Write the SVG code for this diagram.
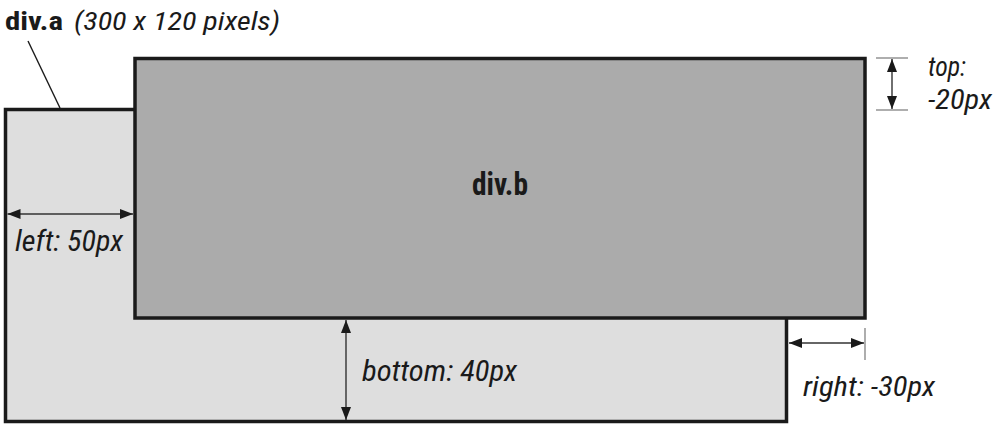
<svg xmlns="http://www.w3.org/2000/svg" width="1000" height="426" viewBox="0 0 1000 426">
<style>
.box{stroke:#1a1a1a;stroke-width:3.5}
.dim{stroke:#333;stroke-width:1.4;fill:none}
.tick{stroke:#777;stroke-width:1.2}
.lbl{font-family:"Liberation Sans Narrow","Roboto Condensed","Liberation Sans",sans-serif;font-style:italic;fill:#1a1a1a}
.bold{font-family:"Liberation Sans Narrow","Roboto Condensed","Liberation Sans",sans-serif;font-weight:bold;fill:#1a1a1a}
</style>
<defs>
<marker id="ah" markerUnits="userSpaceOnUse" markerWidth="14" markerHeight="12" refX="13" refY="5" orient="auto-start-reverse" viewBox="0 0 14 10">
<path d="M0,0 L13,5 L0,10 z" fill="#1a1a1a"/>
</marker>
</defs>
<rect width="1000" height="426" fill="#fff"/>
<g id="div-a">
<rect class="box" x="5.5" y="109.5" width="781" height="312" fill="#dedede"/>
</g>
<g id="div-b">
<rect class="box" x="135" y="58.5" width="730" height="259.5" fill="#ababab"/>
<text class="bold" x="500" y="195" font-size="31" text-anchor="middle" textLength="56" lengthAdjust="spacingAndGlyphs">div.b</text>
</g>
<g id="title">
<text x="5" y="30" font-size="25"><tspan class="bold" textLength="58" lengthAdjust="spacingAndGlyphs">div.a</tspan><tspan class="lbl" x="74" textLength="206" lengthAdjust="spacingAndGlyphs">(300 x 120 pixels)</tspan></text>
</g>
<g id="connectors">
<line x1="28" y1="41" x2="60" y2="108" stroke="#1a1a1a" stroke-width="1.4"/>
<line class="tick" x1="876" y1="58" x2="908" y2="58"/>
<line class="tick" x1="876" y1="110" x2="908" y2="110"/>
<line class="dim" x1="892" y1="59" x2="892" y2="109" marker-start="url(#ah)" marker-end="url(#ah)"/>
<line class="dim" x1="7.5" y1="214" x2="133" y2="214" marker-start="url(#ah)" marker-end="url(#ah)"/>
<line class="dim" x1="346" y1="320" x2="346" y2="420" marker-start="url(#ah)" marker-end="url(#ah)"/>
<line class="tick" x1="865" y1="328" x2="865" y2="360"/>
<line class="dim" x1="789" y1="343" x2="864" y2="343" marker-start="url(#ah)" marker-end="url(#ah)"/>
</g>
<g id="labels">
<text class="lbl" x="928" y="76" font-size="27" textLength="38" lengthAdjust="spacingAndGlyphs">top:</text>
<text class="lbl" x="928" y="109" font-size="27" textLength="64" lengthAdjust="spacingAndGlyphs">-20px</text>
<text class="lbl" x="15" y="251" font-size="30" textLength="108" lengthAdjust="spacingAndGlyphs">left: 50px</text>
<text class="lbl" x="362" y="381" font-size="30" textLength="155" lengthAdjust="spacingAndGlyphs">bottom: 40px</text>
<text class="lbl" x="803" y="396" font-size="27" textLength="132" lengthAdjust="spacingAndGlyphs">right: -30px</text>
</g>
</svg>
